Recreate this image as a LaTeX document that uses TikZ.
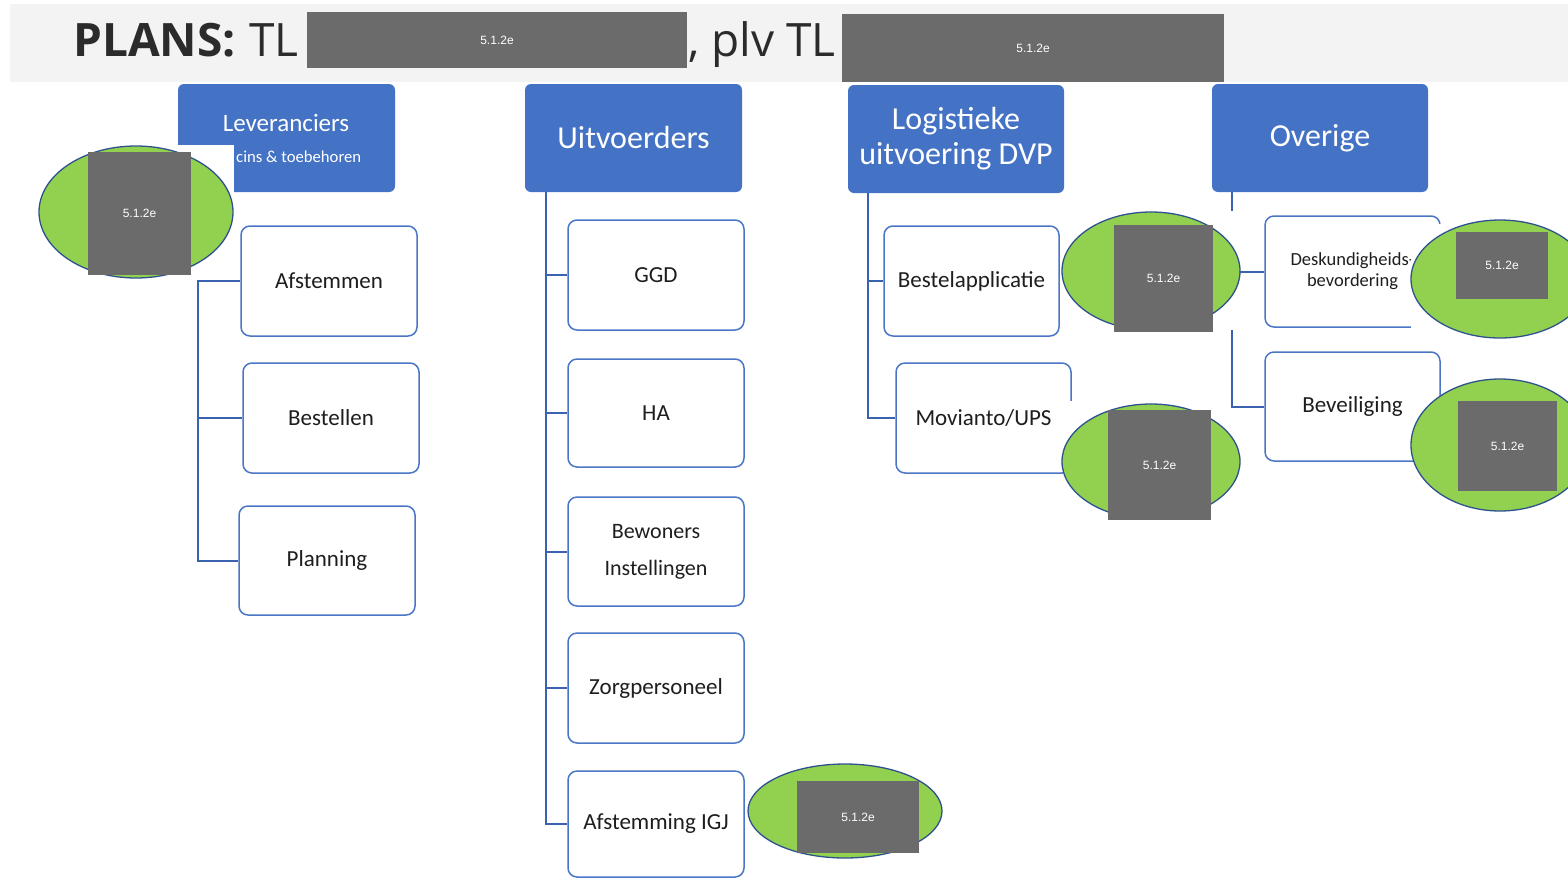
\documentclass[tikz,border=0pt]{standalone}
\usepackage{fontspec}
\setmainfont{Carlito}
\newfontfamily\titlefont{Open Sans}
\newfontfamily\redfont{Liberation Sans}
\usetikzlibrary{shapes.geometric}
\definecolor{hblue}{HTML}{4472C4}
\definecolor{bblue}{HTML}{4A76C6}
\definecolor{cblue}{HTML}{3A62B0}
\definecolor{ogreen}{HTML}{92D050}
\definecolor{oborder}{HTML}{2F528F}
\definecolor{rgray}{HTML}{6B6B6B}
\definecolor{band}{HTML}{F3F3F3}
\definecolor{ink}{HTML}{1E1E1E}
\definecolor{tink}{HTML}{2B2B2B}
\tikzset{
 hdr/.style={rectangle, fill=hblue, rounded corners=6pt, inner sep=0pt, text=white, align=center, font=\fontsize{32}{35}\selectfont},
 child/.style={rectangle, draw=bblue, line width=1.5pt, fill=white, rounded corners=9pt, inner sep=0pt, text=ink, font=\fontsize{23}{26}\selectfont, align=center, minimum width=176, minimum height=110},
 conn/.style={draw=cblue, line width=2pt},
 oval/.style={ellipse, fill=ogreen, draw=oborder, line width=1.3pt, inner sep=0pt},
 redact/.style={rectangle, fill=rgray, inner sep=0pt, text=white, font=\redfont\fontsize{12}{14}\selectfont},
 titletext/.style={anchor=base west, inner sep=0pt, text=tink},
 masking/.style={fill=white, draw=none},
}
\begin{document}
\begin{tikzpicture}[x=1pt,y=-1pt]
\clip (0,0) rectangle (1568,879);
\fill[white] (0,0) rectangle (1568,879);
% title band
\fill[band] (10,4) rectangle (1568,82);
\node[titletext, font=\titlefont\bfseries\fontsize{46}{50}\selectfont] (plans) at (73,56) {PLANS:};
\node[titletext, font=\titlefont\fontsize{46}{50}\selectfont] (tl1) at (249,56) {TL};
\node[redact, minimum width=380, minimum height=56] (red1) at (497,40) {5.1.2e};
\node[titletext, font=\titlefont\fontsize{46}{50}\selectfont] (plv) at (688,56) {, plv TL};
\node[redact, minimum width=382, minimum height=68] (red2) at (1033,48) {5.1.2e};

% ---------- column 1
\node[hdr, minimum width=217, minimum height=108] (lev) at (286.5,138) {};
\fill[masking] (178,145) rectangle (234,193);
\node[inner sep=0pt, text=white, font=\fontsize{25}{28}\selectfont] (levt) at (286,123) {Leveranciers};
\node[anchor=west, inner sep=0pt, text=white, font=\fontsize{16.7}{19}\selectfont] (levs) at (236,157) {cins \& toebehoren};
\node[oval, minimum width=194, minimum height=132] (e1) at (136,212) {};
\node[redact, minimum width=103, minimum height=123] (r1) at (139.5,213.5) {5.1.2e};

\node[child] (afst) at (329,281) {Afstemmen};
\node[child] (best) at (331,418) {Bestellen};
\node[child, minimum height=109] (plan) at (327,560.5) {Planning};
\coordinate (c1x) at (198,0);
\draw[conn] (afst.west) -- (afst.west -| c1x) -- (plan.west -| c1x) -- (plan.west);
\draw[conn] (best.west -| c1x) -- (best.west);

% ---------- column 2
\node[hdr, minimum width=217, minimum height=108] (uit) at (633.5,138) {Uitvoerders};
\node[child] (ggd) at (656,275) {GGD};
\node[child, minimum height=108] (ha) at (656,413) {HA};
\node[child, minimum height=109, font=\fontsize{22}{37}\selectfont] (bew) at (656,551.5) {Bewoners\\Instellingen};
\node[child] (zorg) at (656,688) {Zorgpersoneel};
\node[child, minimum height=106] (igj) at (656,824) {Afstemming IGJ};
\coordinate (c2x) at (546,0);
\draw[conn] (uit.south -| c2x) -- (igj.west -| c2x) -- (igj.west);
\foreach \n in {ggd,ha,bew,zorg} \draw[conn] (\n.west -| c2x) -- (\n.west);
\node[oval, minimum width=194, minimum height=94] (e6) at (845,811) {};
\node[redact, minimum width=122, minimum height=72] (r6) at (858,817) {5.1.2e};

% ---------- column 3
\node[hdr, minimum width=216, minimum height=108] (log) at (956,139) {Logistieke\\uitvoering DVP};
\node[child, minimum width=175] (bapp) at (971.5,281) {Bestelapplicatie};
\node[child, minimum width=175] (mov) at (983.5,418) {Movianto/UPS};
\coordinate (c3x) at (868,0);
\draw[conn] (log.south -| c3x) -- (mov.west -| c3x) -- (mov.west);
\draw[conn] (bapp.west -| c3x) -- (bapp.west);
\fill[masking] (1063,401) rectangle (1077,477);
\node[oval, minimum width=178, minimum height=118] (e2) at (1151,271) {};
\node[redact, minimum width=99, minimum height=107] (r2) at (1163.5,278.5) {5.1.2e};
\node[oval, minimum width=178, minimum height=115] (e3) at (1151,461.5) {};
\node[redact, minimum width=103, minimum height=110] (r3) at (1159.5,465) {5.1.2e};

% ---------- column 4
\node[hdr, minimum width=216, minimum height=108] (ov) at (1320,138) {Overige};
\node[child, minimum width=175, minimum height=111, font=\fontsize{18.5}{21}\selectfont] (desk) at (1352.5,271.5) {Deskundigheids-\\bevordering};
\node[child, minimum width=175, minimum height=109] (bev) at (1352.5,406.5) {Beveiliging};
\coordinate (c4x) at (1232,0);
\draw[conn] (ov.south -| c4x) -- ++(0,19);
\draw[conn] (c4x |- 0,330) -- (bev.west -| c4x) -- (bev.west);
\draw[conn] (desk.west) -- ++(-25,0);
\fill[masking] (1411,224) rectangle (1446,331);
\node[oval, minimum width=178, minimum height=118] (e4) at (1500,279) {};
\node[redact, minimum width=92, minimum height=67] (r4) at (1502,265.5) {5.1.2e};
\node[oval, minimum width=178, minimum height=132] (e5) at (1500,445) {};
\node[redact, minimum width=99, minimum height=90] (r5) at (1507.5,446) {5.1.2e};
\end{tikzpicture}
\end{document}
